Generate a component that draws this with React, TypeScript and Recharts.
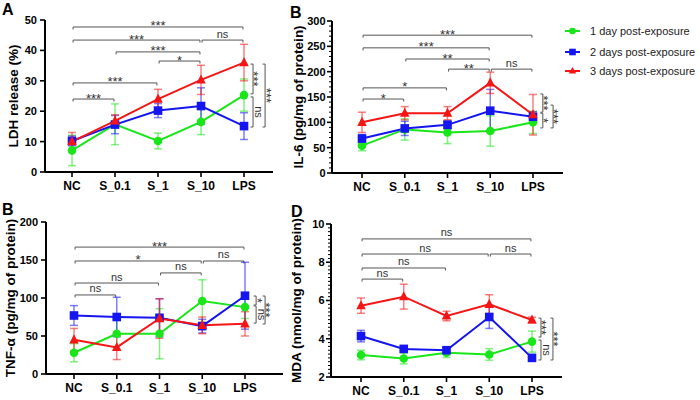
import React from 'react';
import { LineChart, Line, XAxis, YAxis, ErrorBar, ReferenceLine } from 'recharts';

const FONT = "Arial, 'Liberation Sans', Helvetica, sans-serif";
const GREEN = '#19e619';
const BLUE = '#1515f0';
const RED = '#f51515';

const groups = ['NC', 'S_0.1', 'S_1', 'S_10', 'LPS'];

// LDH release (%)
const ldhDay1 = [7.1, 15.7, 10.2, 16.5, 25.3];
const ldhDay1Sd = [5.0, 6.7, 2.6, 4.2, 5.3];
const ldhDay2 = [10.2, 15.6, 20.2, 21.7, 15.1];
const ldhDay2Sd = [1.6, 3.0, 2.3, 6.0, 4.4];
const ldhDay3 = [10.0, 16.8, 24.0, 30.3, 36.0];
const ldhDay3Sd = [3.0, 2.0, 3.2, 4.8, 6.0];

// IL-6 (pg/mg of protein)
const il6Day1 = [54, 86, 80, 83, 100];
const il6Day1Sd = [10, 21, 22, 30, 22];
const il6Day2 = [68, 88, 95, 123, 111];
const il6Day2Sd = [8, 14, 8, 42, 10];
const il6Day3 = [100, 118, 118, 178, 115];
const il6Day3Sd = [20, 13, 13, 21, 40];

// TNF-α (pg/mg of protein)
const tnfDay1 = [28, 53, 53, 96, 88];
const tnfDay1Sd = [12, 20, 33, 28, 15];
const tnfDay2 = [77, 75, 74, 63, 103];
const tnfDay2Sd = [13, 26, 25, 9, 44];
const tnfDay3 = [45, 35, 73, 64, 66];
const tnfDay3Sd = [15, 16, 26, 11, 16];

// MDA (nmol/mg of protein)
const mdaDay1 = [3.15, 2.97, 3.27, 3.18, 3.85];
const mdaDay1Sd = [0.25, 0.28, 0.25, 0.3, 0.55];
const mdaDay2 = [4.14, 3.47, 3.4, 5.14, 3.0];
const mdaDay2Sd = [0.3, 0.1, 0.12, 0.6, 0.05];
const mdaDay3 = [5.73, 6.2, 5.19, 5.8, 4.98];
const mdaDay3Sd = [0.4, 0.65, 0.25, 0.5, 0.15];

const legendLabels = ['1 day post-exposure', '2 days post-exposure', '3 days post-exposure'];

type Bracket = { from: number; to: number; y: number; text: string };
type VBracket = { x: number; y1: number; y2: number; text: string };

// significance annotations (group index, value level)
const ldhBrackets: Bracket[] = [
  { from: 0, to: 4, y: 47.7, text: '***' },
  { from: 0, to: 3, y: 43.4, text: '***' },
  { from: 3, to: 4, y: 43.4, text: 'ns' },
  { from: 1, to: 3, y: 39.5, text: '***' },
  { from: 2, to: 3, y: 36.5, text: '*' },
  { from: 0, to: 2, y: 29.3, text: '***' },
  { from: 0, to: 1, y: 24.0, text: '***' },
];
const ldhSide: VBracket[] = [
  { x: 4.21, y1: 35.5, y2: 25.7, text: '***' },
  { x: 4.21, y1: 24.7, y2: 14.8, text: 'ns' },
  { x: 4.49, y1: 35.5, y2: 14.8, text: '***' },
];

const il6Brackets: Bracket[] = [
  { from: 0, to: 4, y: 272, text: '***' },
  { from: 0, to: 3, y: 247, text: '***' },
  { from: 1, to: 3, y: 225, text: '**' },
  { from: 2, to: 3, y: 205, text: '**' },
  { from: 3, to: 4, y: 205, text: 'ns' },
  { from: 0, to: 2, y: 168, text: '*' },
  { from: 0, to: 1, y: 146, text: '*' },
];
const il6Side: VBracket[] = [
  { x: 4.23, y1: 156, y2: 120, text: '***' },
  { x: 4.23, y1: 118, y2: 89, text: '*' },
  { x: 4.47, y1: 134, y2: 89, text: '***' },
];

const tnfBrackets: Bracket[] = [
  { from: 0, to: 4, y: 167, text: '***' },
  { from: 0, to: 3, y: 148.7, text: '*' },
  { from: 3, to: 4, y: 148.7, text: 'ns' },
  { from: 2, to: 3, y: 133, text: 'ns' },
  { from: 0, to: 2, y: 119.7, text: 'ns' },
  { from: 0, to: 1, y: 104, text: 'ns' },
];
const tnfSide: VBracket[] = [
  { x: 4.26, y1: 102.6, y2: 90.8, text: '*' },
  { x: 4.26, y1: 89.5, y2: 67, text: 'ns' },
  { x: 4.47, y1: 102.6, y2: 65.8, text: '***' },
];

const mdaBrackets: Bracket[] = [
  { from: 0, to: 4, y: 9.22, text: 'ns' },
  { from: 0, to: 3, y: 8.43, text: 'ns' },
  { from: 3, to: 4, y: 8.43, text: 'ns' },
  { from: 0, to: 2, y: 7.7, text: 'ns' },
  { from: 0, to: 1, y: 7.12, text: 'ns' },
];
const mdaSide: VBracket[] = [
  { x: 4.21, y1: 5.08, y2: 4.09, text: '***' },
  { x: 4.21, y1: 3.93, y2: 2.89, text: 'ns' },
  { x: 4.49, y1: 5.08, y2: 2.89, text: '***' },
];

const buildRows = (a: number[], ae: number[], b: number[], be: number[], c: number[], ce: number[]) =>
  groups.map((g, i) => ({ idx: i, name: g, d1: a[i], e1: ae[i], d2: b[i], e2: be[i], d3: c[i], e3: ce[i] }));

const steps = (from: number, to: number, step: number) => {
  const out: number[] = [];
  for (let v = from; v <= to + 1e-9; v += step) out.push(Math.round(v * 100) / 100);
  return out;
};

const circleDot = (color: string, r = 4.3) => (p: any) => (
  <circle key={`c${p.index}`} cx={p.cx} cy={p.cy} r={r} fill={color} />
);
const squareDot = (color: string, s = 8.6) => (p: any) => (
  <rect key={`s${p.index}`} x={p.cx - s / 2} y={p.cy - s / 2} width={s} height={s} fill={color} />
);
const triangleDot = (color: string, s = 9.5) => (p: any) => (
  <polygon
    key={`t${p.index}`}
    points={`${p.cx},${p.cy - s * 0.58} ${p.cx - s / 2},${p.cy + s * 0.38} ${p.cx + s / 2},${p.cy + s * 0.38}`}
    fill={color}
  />
);

const hLabel = (text: string) => (props: any) => {
  const { x, y, width } = props.viewBox;
  const star = text.includes('*');
  return (
    <g>
      <line x1={x} y1={y} x2={x} y2={y + 2.5} stroke="#555" strokeWidth={1} />
      <line x1={x + width} y1={y} x2={x + width} y2={y + 2.5} stroke="#555" strokeWidth={1} />
      <text
        x={x + width / 2}
        y={star ? y + 3.5 : y - 2.5}
        textAnchor="middle"
        fontSize={star ? 13 : 11}
        fontFamily={FONT}
        fill="#333"
      >
        {text}
      </text>
    </g>
  );
};

const vLabel = (text: string) => (props: any) => {
  const { x, y, height } = props.viewBox;
  const star = text.includes('*');
  const cy = y + height / 2;
  const tx = star ? x - 3.6 : x + 2.2;
  return (
    <g>
      <line x1={x - 2.5} y1={y} x2={x} y2={y} stroke="#555" strokeWidth={1} />
      <line x1={x - 2.5} y1={y + height} x2={x} y2={y + height} stroke="#555" strokeWidth={1} />
      <text
        x={tx}
        y={cy}
        transform={`rotate(90, ${tx}, ${cy})`}
        textAnchor="middle"
        fontSize={star ? 13 : 11}
        fontFamily={FONT}
        fill="#333"
      >
        {text}
      </text>
    </g>
  );
};

const yTick = (majors: number[], gap: number) => (p: any) => {
  const v = p.payload.value;
  const major = majors.some((m) => Math.abs(m - v) < 1e-6);
  return (
    <g>
      <line x1={p.x} y1={p.y} x2={p.x - (major ? 5 : 3)} y2={p.y} stroke="#000" strokeWidth={major ? 1.6 : 1} />
      {major && (
        <text x={p.x - gap} y={p.y} dy="0.36em" textAnchor="end" fontSize={11} fontWeight={700} fontFamily={FONT} fill="#000">
          {v}
        </text>
      )}
    </g>
  );
};

type PanelProps = {
  left: number;
  top: number;
  width: number;
  marginTop: number;
  marginRight: number;
  yWidth: number;
  xHeight: number;
  xDomain: [number, number];
  yDomain: [number, number];
  yTicks: number[];
  yMajors: number[];
  tickGap: number;
  yLabel: string;
  labelX: number;
  rows: any[];
  brackets: Bracket[];
  side: VBracket[];
};

function Panel(props: PanelProps) {
  const { left, top, width, marginTop, marginRight, yWidth, xHeight, xDomain, yDomain, yTicks, yMajors, tickGap, yLabel, labelX, rows, brackets, side } = props;
  return (
    <div style={{ position: 'absolute', left, top }}>
      <LineChart width={width} height={200} data={rows} margin={{ top: marginTop, right: marginRight, bottom: 0, left: 0 }}>
        <XAxis
          type="number"
          dataKey="idx"
          domain={xDomain}
          ticks={[0, 1, 2, 3, 4]}
          interval={0}
          allowDataOverflow
          tickFormatter={(i: number) => groups[i]}
          height={xHeight}
          axisLine={{ stroke: '#000', strokeWidth: 2 }}
          tickLine={{ stroke: '#000', strokeWidth: 1.6 }}
          tickSize={5}
          tickMargin={4}
          tick={{ fill: '#000', fontSize: 12, fontWeight: 700, fontFamily: FONT }}
        />
        <YAxis
          type="number"
          domain={yDomain}
          ticks={yTicks}
          interval={0}
          allowDataOverflow
          width={yWidth}
          tickSize={0}
          tickMargin={0}
          tickLine={false}
          axisLine={{ stroke: '#000', strokeWidth: 2 }}
          tick={yTick(yMajors, tickGap)}
          label={(lp: any) => {
            const vb = lp.viewBox;
            const cx = vb.x + labelX;
            const cy = vb.y + vb.height / 2;
            return (
              <text
                x={cx}
                y={cy}
                transform={`rotate(-90, ${cx}, ${cy})`}
                textAnchor="middle"
                dominantBaseline="central"
                fontSize={13.5}
                fontWeight={700}
                fontFamily={FONT}
                fill="#000"
              >
                {yLabel}
              </text>
            );
          }}
        />
        {brackets.map((b, i) => (
          <ReferenceLine
            key={`h${i}`}
            segment={[{ x: b.from + 0.025, y: b.y }, { x: b.to - 0.025, y: b.y }]}
            stroke="#555"
            strokeWidth={1}
            label={hLabel(b.text)}
          />
        ))}
        {side.map((b, i) => (
          <ReferenceLine
            key={`v${i}`}
            segment={[{ x: b.x, y: b.y1 }, { x: b.x, y: b.y2 }]}
            stroke="#555"
            strokeWidth={1}
            label={vLabel(b.text)}
          />
        ))}
        <Line type="linear" dataKey="d1" stroke={GREEN} strokeWidth={2} dot={circleDot(GREEN)} isAnimationActive={false}>
          <ErrorBar dataKey="e1" direction="y" width={4} stroke={GREEN} strokeOpacity={0.55} strokeWidth={1.5} />
        </Line>
        <Line type="linear" dataKey="d2" stroke={BLUE} strokeWidth={2} dot={squareDot(BLUE)} isAnimationActive={false}>
          <ErrorBar dataKey="e2" direction="y" width={4} stroke={BLUE} strokeOpacity={0.55} strokeWidth={1.5} />
        </Line>
        <Line type="linear" dataKey="d3" stroke={RED} strokeWidth={2} dot={triangleDot(RED)} isAnimationActive={false}>
          <ErrorBar dataKey="e3" direction="y" width={4} stroke={RED} strokeOpacity={0.55} strokeWidth={1.5} />
        </Line>
      </LineChart>
    </div>
  );
}

const legendColors = [GREEN, BLUE, RED];

export default function App() {
  const ldhRows = buildRows(ldhDay1, ldhDay1Sd, ldhDay2, ldhDay2Sd, ldhDay3, ldhDay3Sd);
  const il6Rows = buildRows(il6Day1, il6Day1Sd, il6Day2, il6Day2Sd, il6Day3, il6Day3Sd);
  const tnfRows = buildRows(tnfDay1, tnfDay1Sd, tnfDay2, tnfDay2Sd, tnfDay3, tnfDay3Sd);
  const mdaRows = buildRows(mdaDay1, mdaDay1Sd, mdaDay2, mdaDay2Sd, mdaDay3, mdaDay3Sd);

  return (
    <div style={{ position: 'absolute', left: 0, top: 0, width: 700, height: 400, background: '#fff', fontFamily: FONT }}>
      <Panel
        left={0} top={0} width={300} marginTop={20} marginRight={27} yWidth={45} xHeight={28}
        xDomain={[-0.628, 4.674]} yDomain={[0, 50]} yTicks={steps(0, 50, 10)} yMajors={steps(0, 50, 10)} tickGap={8}
        yLabel="LDH release (%)" labelX={13.5} rows={ldhRows} brackets={ldhBrackets} side={ldhSide}
      />
      <Panel
        left={287} top={0} width={300} marginTop={21} marginRight={24} yWidth={45} xHeight={27}
        xDomain={[-0.702, 4.702]} yDomain={[0, 300]} yTicks={steps(0, 300, 10)} yMajors={steps(0, 300, 50)} tickGap={6.5}
        yLabel="IL-6 (pg/mg of protein)" labelX={11.5} rows={il6Rows} brackets={il6Brackets} side={il6Side}
      />
      <Panel
        left={0} top={200} width={300} marginTop={22} marginRight={17} yWidth={46} xHeight={26}
        xDomain={[-0.655, 4.889]} yDomain={[0, 200]} yTicks={steps(0, 200, 50)} yMajors={steps(0, 200, 50)} tickGap={8}
        yLabel="TNF-α (pg/mg of protein)" labelX={10} rows={tnfRows} brackets={tnfBrackets} side={tnfSide}
      />
      <Panel
        left={286} top={200} width={300} marginTop={24} marginRight={24} yWidth={45} xHeight={23}
        xDomain={[-0.702, 4.702]} yDomain={[2, 10]} yTicks={steps(2, 10, 0.2)} yMajors={steps(2, 10, 2)} tickGap={6.5}
        yLabel="MDA (nmol/mg of protein)" labelX={10.5} rows={mdaRows} brackets={mdaBrackets} side={mdaSide}
      />
      <svg width={700} height={400} style={{ position: 'absolute', left: 0, top: 0, pointerEvents: 'none' }}>
        <g fontFamily={FONT} fontWeight={700} fontSize={16} fill="#000">
          <text x={2} y={15}>A</text>
          <text x={290} y={18}>B</text>
          <text x={2} y={215}>B</text>
          <text x={291} y={217}>D</text>
        </g>
        {legendLabels.map((label, i) => {
          const y = [31, 52, 71][i];
          const c = legendColors[i];
          return (
            <g key={label}>
              <line x1={565} y1={y} x2={580} y2={y} stroke={c} strokeWidth={2} />
              {i === 0 && <circle cx={572.5} cy={y} r={3.3} fill={c} />}
              {i === 1 && <rect x={569.2} y={y - 3.3} width={6.6} height={6.6} fill={c} />}
              {i === 2 && <polygon points={`572.5,${y - 4} 568.8,${y + 2.6} 576.2,${y + 2.6}`} fill={c} />}
              <text x={590} y={y} dy="0.36em" fontSize={11} fontFamily={FONT} fill="#222">
                {label}
              </text>
            </g>
          );
        })}
      </svg>
    </div>
  );
}
